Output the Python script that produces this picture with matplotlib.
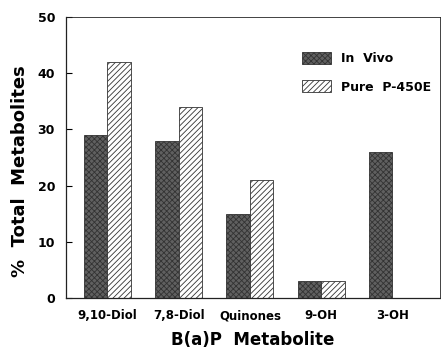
import numpy as np
import matplotlib
matplotlib.use("Agg")
import matplotlib.pyplot as plt

# data
categories = ["9,10-Diol", "7,8-Diol", "Quinones", "9-OH", "3-OH"]
in_vivo = [29, 28, 15, 3, 26]
pure_p450e = [42, 34, 21, 3, 0]

plt.rcParams["font.family"] = "DejaVu Sans"
plt.rcParams["font.weight"] = "bold"
plt.rcParams["hatch.linewidth"] = 0.6

fig = plt.figure(figsize=(4.41, 3.47), dpi=100)
ax = fig.add_axes([0.150, 0.141, 0.848, 0.810])

x = np.arange(len(categories))
w = 0.33

ax.bar(x - w / 2, in_vivo, w, facecolor="#606060", edgecolor="#333333",
       hatch="xxxxxx", linewidth=0.6, label="In  Vivo")
# the last group has no P-450E value
ax.bar(x[:4] + w / 2, pure_p450e[:4], w, facecolor="white",
       edgecolor="#333333", hatch="//////", linewidth=0.6,
       label="Pure  P-450E")

ax.set_xlim(-0.58, 4.67)
ax.set_ylim(0, 50)
ax.set_yticks([0, 10, 20, 30, 40, 50])
ax.set_xticks(x)
ax.set_xticklabels(categories, fontsize=8.5, fontweight="bold")
ax.tick_params(axis="y", direction="in", length=4, labelsize=9, pad=8)
ax.tick_params(axis="x", length=0, pad=8)
for s in ax.spines.values():
    s.set_linewidth(0.9)
    s.set_color("#222222")
ax.spines["top"].set_linewidth(0.6)
ax.spines["right"].set_linewidth(0.6)

ax.set_ylabel("%  Total  Metabolites", fontsize=13, fontweight="bold")
ax.yaxis.set_label_coords(-0.10, 0.45)
ax.set_xlabel("B(a)P  Metabolite", fontsize=12, fontweight="bold", labelpad=6)

ax.legend(loc="upper left", bbox_to_anchor=(0.60, 0.915), frameon=False,
          fontsize=9, handlelength=2.3, handleheight=1.1, labelspacing=1.2,
          handletextpad=0.8)

fig.savefig("out.png", dpi=100)
